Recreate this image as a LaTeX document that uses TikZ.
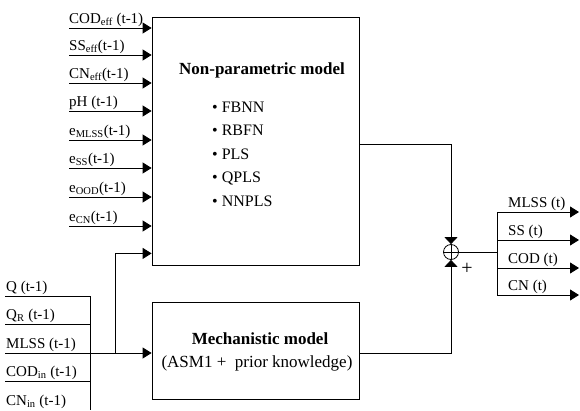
\documentclass[tikz,border=0pt]{standalone}
\usepackage{fontspec}
\setmainfont{Liberation Serif}
\usetikzlibrary{arrows.meta,calc}
\begin{document}
\begin{tikzpicture}[x=1pt,y=-1pt,
  ln/.style={line width=0.8pt},
  arr/.style={ln,-{Triangle[length=9pt,width=11pt]}},
  sarr/.style={ln,-{Triangle[length=7pt,width=13pt]}},
  lbl/.style={anchor=base west,inner sep=0pt,font=\fontsize{15}{18}\selectfont},
  itm/.style={anchor=base west,inner sep=0pt,font=\fontsize{16}{19}\selectfont},
  txt/.style={inner sep=0pt,font=\fontsize{17}{20}\selectfont},
  ttl/.style={inner sep=0pt,anchor=base,font=\fontsize{17}{20}\selectfont\bfseries},
  box/.style={draw,line width=0.8pt,inner sep=0pt}]
\useasboundingbox (0,0) rectangle (580,410);
% boxes
\node[box,minimum width=207pt,minimum height=248pt] (np) at (255.5,141) {};
\node[box,minimum width=207pt,minimum height=97pt] (mech) at (255.5,350.5) {};
\node[ttl] (npt) at (262,74) {Non-parametric model};
\foreach \y/\t [count=\k] in {112/FBNN,135/RBFN,159/PLS,182/QPLS,206/NNPLS}
  \node[itm] (it\k) at (212,\y) {\textbullet\ \t};
\node[ttl] (mt) at (260,344) {Mechanistic model};
\node[txt,anchor=base] (mt2) at (257,367) {(ASM1 +\ \ prior knowledge)};
% upper inputs
\foreach \y/\t [count=\k] in {
  28/{COD\textsubscript{eff} (t-1)},
  55/{SS\textsubscript{eff}(t-1)},
  83/{CN\textsubscript{eff}(t-1)},
  111/{pH (t-1)},
  140/{e\textsubscript{MLSS}(t-1)},
  168/{e\textsubscript{SS}(t-1)},
  197/{e\textsubscript{OOD}(t-1)},
  226/{e\textsubscript{CN}(t-1)}}{
  \coordinate (u\k) at (69,\y);
  \draw[arr] (u\k) -- (np.west |- u\k);
  \node[lbl] (ul\k) at ($(u\k)+(0,-5)$) {\t};
}
% lower inputs
\foreach \y/\t [count=\k] in {
  296/{Q (t-1)},
  324/{Q\textsubscript{R} (t-1)},
  353/{MLSS (t-1)},
  381/{COD\textsubscript{in} (t-1)}}{
  \coordinate (l\k) at (5,\y);
  \node[lbl] (ll\k) at ($(l\k)+(1,-5)$) {\t};
}
\node[lbl] (ll5) at (6,405) {CN\textsubscript{in} (t-1)};
\coordinate (bus) at (90,296);
\coordinate (busb) at (90,410);
\draw[ln] (l1) -- (bus);
\draw[ln] (l2) -- (bus |- l2);
\draw[ln] (l4) -- (bus |- l4);
\draw[ln] (bus) -- (busb);
\draw[arr] (l3) -- (mech.west |- l3);
\coordinate (j) at (115,353);
\draw[arr] (j) |- ($(np.south west)+(0,-12)$);
% summation
\node[draw,circle,line width=0.8pt,minimum size=15pt,inner sep=0pt] (sum) at (451,252) {};
\draw[ln] (sum.west) -- (sum.east);
\draw[ln] (sum.north) -- (sum.south);
\coordinate (npo) at (359,144);
\coordinate (mo) at (359,353);
\draw[sarr] (npo) -| (sum.north);
\draw[sarr] (mo) -| (sum.south);
\node[inner sep=0pt,font=\fontsize{20}{22}\selectfont] (plus) at (467,269) {+};
% outputs
\coordinate (ob) at (497,252);
\draw[ln] (sum.east) -- (ob);
\coordinate (ot) at (497,212);
\coordinate (obb) at (497,295);
\draw[ln] (ot) -- (obb);
\foreach \y/\t [count=\k] in {212/{MLSS (t)},240/{SS (t)},268/{COD (t)},295/{CN (t)}}{
  \coordinate (o\k) at (497,\y);
  \coordinate (oe\k) at (579,\y);
  \draw[arr] (o\k) -- (oe\k);
  \node[lbl] (ol\k) at ($(o\k)+(11,-5)$) {\t};
}
\end{tikzpicture}
\end{document}
